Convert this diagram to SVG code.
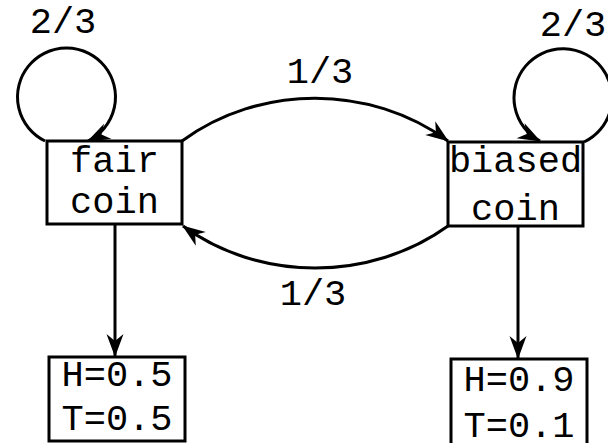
<svg xmlns="http://www.w3.org/2000/svg" width="608" height="443" viewBox="0 0 608 443">
<style>
.box{fill:#fff;stroke:#000;stroke-width:3}
.t{font-family:"Liberation Mono","Courier New",monospace;font-size:37px;fill:#000;text-anchor:middle}
.e{fill:none;stroke:#000;stroke-width:3}
</style>
<defs>
<marker id="ah" markerUnits="userSpaceOnUse" markerWidth="30" markerHeight="24" viewBox="-24 -12 26 24" refX="0" refY="0" orient="auto">
<path d="M1,0 L-22,-8.5 L-15,0 L-22,8.5 Z" fill="#000"/>
</marker>
</defs>
<g id="connectors">
<path class="e" d="M45,141 A49,49 0 1 1 88,141" marker-end="url(#ah)"/>
<path class="e" d="M584,142 A49,49 0 1 0 540,141" marker-end="url(#ah)"/>
<path class="e" d="M182,141 C260,84 370,84 448,141" marker-end="url(#ah)"/>
<path class="e" d="M448,226 C370,282 260,282 183,226" marker-end="url(#ah)"/>
<path class="e" d="M115,224 L115,356" marker-end="url(#ah)"/>
<path class="e" d="M518,226 L518,358" marker-end="url(#ah)"/>
<text class="t" x="63" y="33">2/3</text>
<text class="t" x="573" y="36">2/3</text>
<text class="t" x="320" y="83">1/3</text>
<text class="t" x="313" y="305">1/3</text>
</g>
<g id="fair">
<rect class="box" x="47" y="141" width="135" height="83"/>
<text class="t" x="114.5" y="172">fair</text>
<text class="t" x="114.5" y="213">coin</text>
</g>
<g id="biased">
<rect class="box" x="448" y="142" width="135" height="84"/>
<text class="t" x="515.5" y="172">biased</text>
<text class="t" x="515.5" y="220">coin</text>
</g>
<g id="fairEmit">
<rect class="box" x="49" y="357" width="136" height="84"/>
<text class="t" x="117" y="386">H=0.5</text>
<text class="t" x="117" y="430">T=0.5</text>
</g>
<g id="biasedEmit">
<rect class="box" x="451" y="359" width="136" height="88"/>
<text class="t" x="519" y="391">H=0.9</text>
<text class="t" x="519" y="437">T=0.1</text>
</g>
</svg>
